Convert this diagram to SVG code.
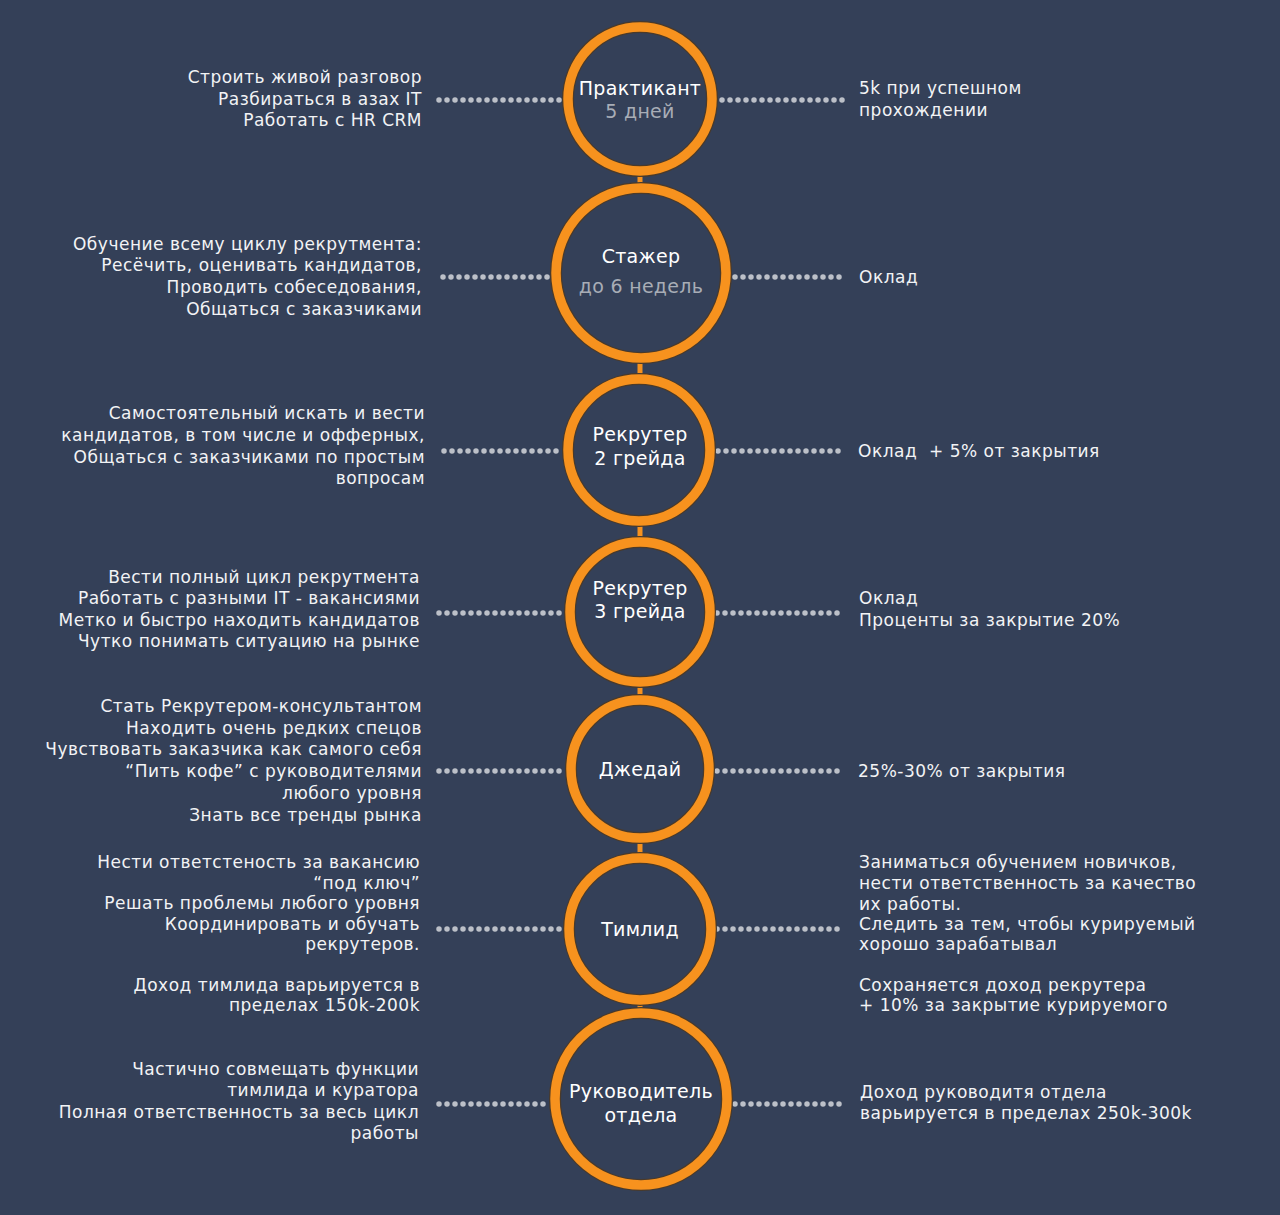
<svg xmlns="http://www.w3.org/2000/svg" width="1280" height="1215" viewBox="0 0 1280 1215">
<style>
.bg{fill:#344058}
.ring-o{fill:#344058;stroke:#4a3a2a;stroke-width:12}
.ring{fill:none;stroke:#f7921e;stroke-width:9.5}
.link{stroke:#f7921e;stroke-width:5}
.dots{stroke:#bcc0c8;stroke-width:5.5;stroke-linecap:round;stroke-dasharray:0 8;fill:none}
.t{font-family:"DejaVu Sans","Liberation Sans",sans-serif;font-size:17px;letter-spacing:0.5px;fill:#f2f3f5}
.l{text-anchor:end}
.c{font-family:"DejaVu Sans","Liberation Sans",sans-serif;font-size:19px;letter-spacing:0.3px;fill:#ffffff;text-anchor:middle}
.s{fill:#a8adb6}
</style>
<rect class="bg" x="0" y="0" width="1280" height="1215"/>
<g id="connectors">
<line class="link" x1="640" y1="172" x2="640" y2="188"/>
<line class="link" x1="640" y1="360" x2="640" y2="378"/>
<line class="link" x1="640" y1="522" x2="640" y2="540"/>
<line class="link" x1="640" y1="684" x2="640" y2="698"/>
<line class="link" x1="640" y1="840" x2="640" y2="856"/>
<line class="link" x1="640" y1="1002" x2="640" y2="1012"/>
<line class="dots" x1="439" y1="100" x2="560" y2="100"/>
<line class="dots" x1="722" y1="100" x2="843" y2="100"/>
<line class="dots" x1="443" y1="277" x2="548" y2="277"/>
<line class="dots" x1="735" y1="277" x2="845" y2="277"/>
<line class="dots" x1="444" y1="451" x2="562" y2="451"/>
<line class="dots" x1="718" y1="451" x2="845" y2="451"/>
<line class="dots" x1="439" y1="613" x2="563" y2="613"/>
<line class="dots" x1="717" y1="613" x2="845" y2="613"/>
<line class="dots" x1="439" y1="771" x2="563" y2="771"/>
<line class="dots" x1="717" y1="771" x2="845" y2="771"/>
<line class="dots" x1="439" y1="929" x2="563" y2="929"/>
<line class="dots" x1="717" y1="929" x2="845" y2="929"/>
<line class="dots" x1="439" y1="1104" x2="548" y2="1104"/>
<line class="dots" x1="735" y1="1104" x2="843" y2="1104"/>
</g>
<g id="n1">
<circle class="ring-o" cx="640" cy="99" r="72"/>
<circle class="ring" cx="640" cy="99" r="72"/>
<text class="c" x="640" y="95">Практикант</text>
<text class="c s" x="640" y="118">5 дней</text>
</g>
<g id="n2">
<circle class="ring-o" cx="641" cy="273" r="85"/>
<circle class="ring" cx="641" cy="273" r="85"/>
<text class="c" x="641" y="263">Стажер</text>
<text class="c s" x="641" y="293">до 6 недель</text>
</g>
<g id="n3">
<circle class="ring-o" cx="639" cy="450" r="71"/>
<circle class="ring" cx="639" cy="450" r="71"/>
<text class="c" x="640" y="441">Рекрутер</text>
<text class="c" x="640" y="465">2 грейда</text>
</g>
<g id="n4">
<circle class="ring-o" cx="640" cy="612" r="70"/>
<circle class="ring" cx="640" cy="612" r="70"/>
<text class="c" x="640" y="595">Рекрутер</text>
<text class="c" x="640" y="618">3 грейда</text>
</g>
<g id="n5">
<circle class="ring-o" cx="640" cy="769" r="69"/>
<circle class="ring" cx="640" cy="769" r="69"/>
<text class="c" x="640" y="776">Джедай</text>
</g>
<g id="n6">
<circle class="ring-o" cx="640" cy="929" r="71"/>
<circle class="ring" cx="640" cy="929" r="71"/>
<text class="c" x="640" y="936">Тимлид</text>
</g>
<g id="n7">
<circle class="ring-o" cx="641" cy="1099" r="86"/>
<circle class="ring" cx="641" cy="1099" r="86"/>
<text class="c" x="641" y="1098">Руководитель</text>
<text class="c" x="641" y="1122">отдела</text>
</g>
<g id="left-texts">
<text class="t l" x="422" y="83">Строить живой разговор</text>
<text class="t l" x="422" y="105">Разбираться в азах IT</text>
<text class="t l" x="422" y="126">Работать с HR CRM</text>
<text class="t l" x="422" y="250">Обучение всему циклу рекрутмента:</text>
<text class="t l" x="422" y="271">Ресёчить, оценивать кандидатов,</text>
<text class="t l" x="422" y="293">Проводить собеседования,</text>
<text class="t l" x="422" y="315">Общаться с заказчиками</text>
<text class="t l" x="425" y="419">Самостоятельный искать и вести</text>
<text class="t l" x="425" y="441">кандидатов, в том числе и офферных,</text>
<text class="t l" x="425" y="463">Общаться с заказчиками по простым</text>
<text class="t l" x="425" y="484">вопросам</text>
<text class="t l" x="420" y="583">Вести полный цикл рекрутмента</text>
<text class="t l" x="420" y="604">Работать с разными IT - вакансиями</text>
<text class="t l" x="420" y="626">Метко и быстро находить кандидатов</text>
<text class="t l" x="420" y="647">Чутко понимать ситуацию на рынке</text>
<text class="t l" x="422" y="712">Стать Рекрутером-консультантом</text>
<text class="t l" x="422" y="734">Находить очень редких спецов</text>
<text class="t l" x="422" y="755">Чувствовать заказчика как самого себя</text>
<text class="t l" x="422" y="777">“Пить кофе” с руководителями</text>
<text class="t l" x="422" y="799">любого уровня</text>
<text class="t l" x="422" y="821">Знать все тренды рынка</text>
<text class="t l" x="420" y="868">Нести ответстеность за вакансию</text>
<text class="t l" x="420" y="889">“под ключ”</text>
<text class="t l" x="420" y="909">Решать проблемы любого уровня</text>
<text class="t l" x="420" y="930">Координировать и обучать</text>
<text class="t l" x="420" y="950">рекрутеров.</text>
<text class="t l" x="420" y="991">Доход тимлида варьируется в</text>
<text class="t l" x="420" y="1011">пределах 150k-200k</text>
<text class="t l" x="419" y="1075">Частично совмещать функции</text>
<text class="t l" x="419" y="1096">тимлида и куратора</text>
<text class="t l" x="419" y="1118">Полная ответственность за весь цикл</text>
<text class="t l" x="419" y="1139">работы</text>
</g>
<g id="right-texts">
<text class="t" x="859" y="94">5k при успешном</text>
<text class="t" x="859" y="116">прохождении</text>
<text class="t" x="859" y="283">Оклад</text>
<text class="t" x="858" y="457">Оклад &#160;+ 5% от закрытия</text>
<text class="t" x="859" y="604">Оклад</text>
<text class="t" x="859" y="626">Проценты за закрытие 20%</text>
<text class="t" x="858" y="777">25%-30% от закрытия</text>
<text class="t" x="859" y="868">Заниматься обучением новичков,</text>
<text class="t" x="859" y="889">нести ответственность за качество</text>
<text class="t" x="859" y="910">их работы.</text>
<text class="t" x="859" y="930">Следить за тем, чтобы курируемый</text>
<text class="t" x="859" y="950">хорошо зарабатывал</text>
<text class="t" x="859" y="991">Сохраняется доход рекрутера</text>
<text class="t" x="859" y="1011">+ 10% за закрытие курируемого</text>
<text class="t" x="860" y="1098">Доход руководитя отдела</text>
<text class="t" x="860" y="1119">варьируется в пределах 250k-300k</text>
</g>
</svg>
